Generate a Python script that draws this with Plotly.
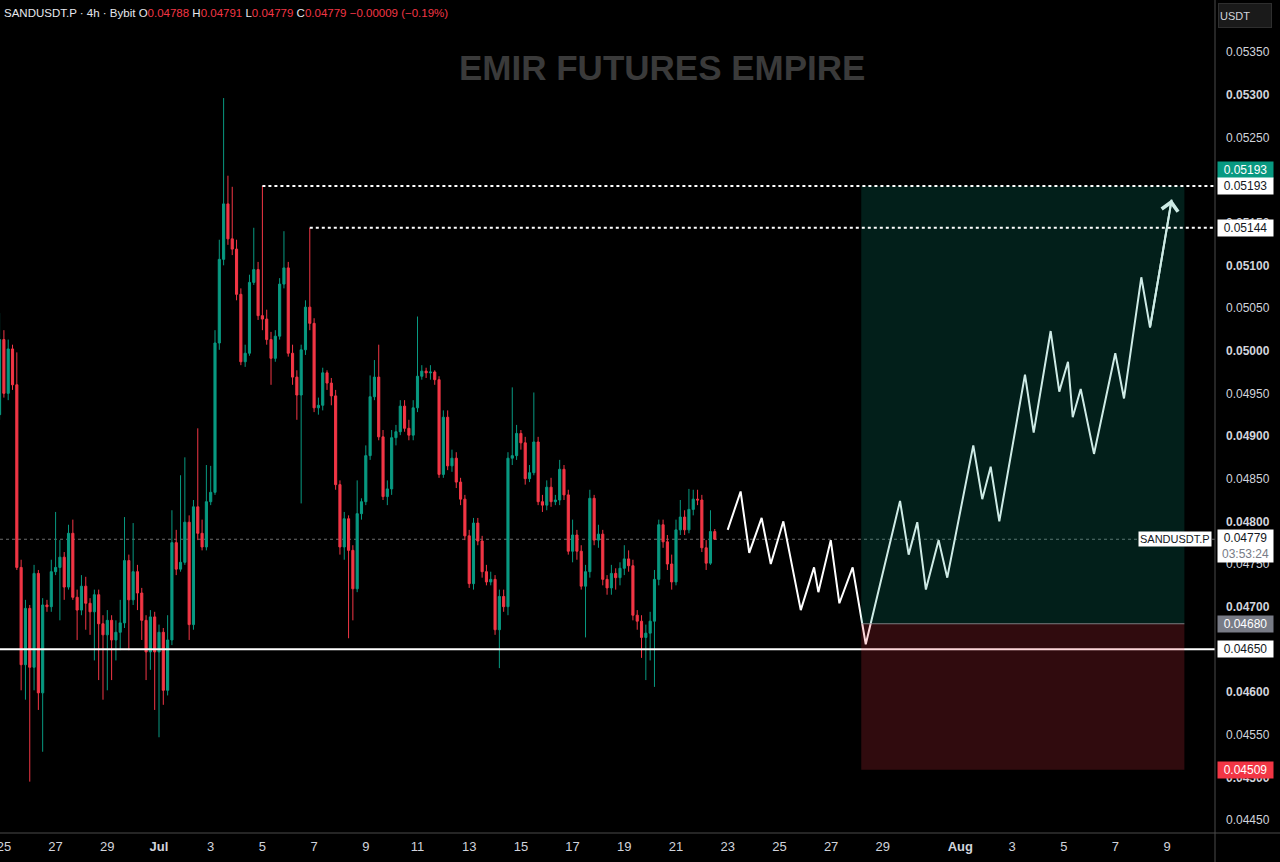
import pandas as pd
import plotly.graph_objects as go

# SANDUSDT.P 4h candles (Bybit), first bar at candle_start
candle_start = "2025-06-24 20:00"

opens = [
    0.04925, 0.05013, 0.04950, 0.05002, 0.04960, 0.04746, 0.04632, 0.04698, 0.04629, 0.04739,
    0.04599, 0.04702, 0.04700, 0.04741, 0.04746, 0.04758, 0.04723, 0.04786, 0.04711, 0.04696,
    0.04724, 0.04704, 0.04694, 0.04714, 0.04680, 0.04667, 0.04684, 0.04661, 0.04670, 0.04681,
    0.04754, 0.04708, 0.04741, 0.04716, 0.04684, 0.04647, 0.04688, 0.04647, 0.04670, 0.04602,
    0.04661, 0.04775, 0.04744, 0.04752, 0.04799, 0.04679, 0.04817, 0.04786, 0.04770, 0.04823,
    0.04834, 0.05009, 0.05107, 0.05172, 0.05131, 0.05119, 0.05066, 0.04987, 0.04997, 0.05080,
    0.05095, 0.05041, 0.05037, 0.05013, 0.04991, 0.05017, 0.05078, 0.05097, 0.04997, 0.04969,
    0.04948, 0.05001, 0.05051, 0.05032, 0.04933, 0.04936, 0.04974, 0.04962, 0.04947, 0.04843,
    0.04770, 0.04803, 0.04766, 0.04721, 0.04809, 0.04823, 0.04877, 0.04946, 0.04969, 0.04899,
    0.04829, 0.04838, 0.04898, 0.04905, 0.04935, 0.04909, 0.04901, 0.04933, 0.04970, 0.04976,
    0.04974, 0.04975, 0.04966, 0.04855, 0.04922, 0.04865, 0.04874, 0.04846, 0.04826, 0.04783,
    0.04727, 0.04798, 0.04777, 0.04741, 0.04729, 0.04732, 0.04673, 0.04712, 0.04700, 0.04874,
    0.04877, 0.04903, 0.04892, 0.04850, 0.04857, 0.04893, 0.04823, 0.04819, 0.04840, 0.04823,
    0.04825, 0.04861, 0.04831, 0.04765, 0.04784, 0.04765, 0.04724, 0.04741, 0.04827, 0.04778,
    0.04785, 0.04732, 0.04722, 0.04739, 0.04734, 0.04745, 0.04756, 0.04748, 0.04690, 0.04683,
    0.04664, 0.04669, 0.04683, 0.04732, 0.04796, 0.04776, 0.04750, 0.04729, 0.04790, 0.04805,
    0.04790, 0.04814, 0.04826, 0.04825, 0.04769, 0.04751, 0.04788,
]
highs = [
    0.05044, 0.05024, 0.05013, 0.05007, 0.04998, 0.04755, 0.04708, 0.04702, 0.04749, 0.04743,
    0.04710, 0.04708, 0.04755, 0.04811, 0.04778, 0.04764, 0.04796, 0.04802, 0.04720, 0.04737,
    0.04735, 0.04710, 0.04720, 0.04720, 0.04690, 0.04696, 0.04690, 0.04684, 0.04708, 0.04805,
    0.04761, 0.04798, 0.04749, 0.04722, 0.04690, 0.04696, 0.04694, 0.04679, 0.04675, 0.04690,
    0.04813, 0.04790, 0.04854, 0.04875, 0.04807, 0.04825, 0.04909, 0.04802, 0.04866, 0.04865,
    0.05024, 0.05130, 0.05296, 0.05205, 0.05192, 0.05130, 0.05073, 0.05007, 0.05089, 0.05144,
    0.05104, 0.05193, 0.05048, 0.05022, 0.05024, 0.05085, 0.05140, 0.05104, 0.05007, 0.04977,
    0.05007, 0.05059, 0.05144, 0.05038, 0.04945, 0.04980, 0.04977, 0.04968, 0.04954, 0.04848,
    0.04811, 0.04807, 0.04772, 0.04848, 0.04827, 0.04889, 0.04971, 0.04989, 0.05007, 0.04907,
    0.04848, 0.04907, 0.04913, 0.04942, 0.04942, 0.04919, 0.04942, 0.05040, 0.04983, 0.04980,
    0.04983, 0.04977, 0.04970, 0.04930, 0.04930, 0.04884, 0.04881, 0.04851, 0.04831, 0.04790,
    0.04804, 0.04804, 0.04783, 0.04749, 0.04741, 0.04737, 0.04720, 0.04720, 0.04881, 0.04957,
    0.04913, 0.04907, 0.04899, 0.04866, 0.04951, 0.04899, 0.04831, 0.04848, 0.04851, 0.04831,
    0.04872, 0.04866, 0.04837, 0.04802, 0.04790, 0.04772, 0.04749, 0.04837, 0.04831, 0.04796,
    0.04790, 0.04737, 0.04749, 0.04745, 0.04752, 0.04772, 0.04766, 0.04755, 0.04696, 0.04690,
    0.04679, 0.04694, 0.04743, 0.04802, 0.04802, 0.04784, 0.04761, 0.04802, 0.04825, 0.04813,
    0.04838, 0.04837, 0.04837, 0.04831, 0.04778, 0.04813, 0.04791,
]
lows = [
    0.04919, 0.04945, 0.04942, 0.04954, 0.04743, 0.04602, 0.04591, 0.04495, 0.04602, 0.04579,
    0.04530, 0.04694, 0.04694, 0.04737, 0.04684, 0.04708, 0.04720, 0.04708, 0.04661, 0.04690,
    0.04673, 0.04667, 0.04637, 0.04614, 0.04591, 0.04602, 0.04614, 0.04637, 0.04649, 0.04675,
    0.04649, 0.04702, 0.04696, 0.04661, 0.04614, 0.04626, 0.04579, 0.04547, 0.04585, 0.04596,
    0.04655, 0.04737, 0.04741, 0.04749, 0.04661, 0.04673, 0.04778, 0.04766, 0.04766, 0.04819,
    0.04831, 0.05001, 0.05100, 0.05124, 0.05112, 0.05059, 0.04983, 0.04981, 0.04994, 0.05077,
    0.05036, 0.05024, 0.05007, 0.04960, 0.04987, 0.05013, 0.05073, 0.04993, 0.04960, 0.04919,
    0.04821, 0.04995, 0.05024, 0.04928, 0.04925, 0.04930, 0.04954, 0.04936, 0.04837, 0.04761,
    0.04755, 0.04663, 0.04684, 0.04717, 0.04802, 0.04819, 0.04872, 0.04942, 0.04895, 0.04825,
    0.04819, 0.04831, 0.04889, 0.04901, 0.04905, 0.04895, 0.04895, 0.04928, 0.04966, 0.04968,
    0.04966, 0.04960, 0.04851, 0.04851, 0.04860, 0.04858, 0.04839, 0.04819, 0.04778, 0.04722,
    0.04720, 0.04772, 0.04734, 0.04725, 0.04725, 0.04667, 0.04628, 0.04694, 0.04690, 0.04866,
    0.04872, 0.04884, 0.04843, 0.04846, 0.04854, 0.04819, 0.04811, 0.04813, 0.04817, 0.04819,
    0.04819, 0.04825, 0.04761, 0.04752, 0.04755, 0.04720, 0.04664, 0.04734, 0.04772, 0.04769,
    0.04725, 0.04714, 0.04714, 0.04720, 0.04725, 0.04737, 0.04741, 0.04684, 0.04673, 0.04640,
    0.04614, 0.04637, 0.04606, 0.04725, 0.04769, 0.04743, 0.04720, 0.04725, 0.04784, 0.04784,
    0.04786, 0.04807, 0.04819, 0.04764, 0.04743, 0.04749, 0.04779,
]
closes = [
    0.05013, 0.04950, 0.05002, 0.04960, 0.04746, 0.04632, 0.04698, 0.04629, 0.04739, 0.04599,
    0.04702, 0.04700, 0.04741, 0.04746, 0.04758, 0.04723, 0.04786, 0.04711, 0.04696, 0.04724,
    0.04704, 0.04694, 0.04714, 0.04680, 0.04667, 0.04684, 0.04661, 0.04670, 0.04681, 0.04754,
    0.04708, 0.04741, 0.04716, 0.04684, 0.04647, 0.04688, 0.04647, 0.04670, 0.04602, 0.04661,
    0.04775, 0.04744, 0.04752, 0.04799, 0.04679, 0.04817, 0.04786, 0.04770, 0.04823, 0.04834,
    0.05009, 0.05107, 0.05172, 0.05131, 0.05119, 0.05066, 0.04987, 0.04997, 0.05080, 0.05095,
    0.05041, 0.05037, 0.05013, 0.04991, 0.05017, 0.05078, 0.05097, 0.04997, 0.04969, 0.04948,
    0.05001, 0.05051, 0.05032, 0.04933, 0.04936, 0.04974, 0.04962, 0.04947, 0.04843, 0.04770,
    0.04803, 0.04766, 0.04721, 0.04809, 0.04823, 0.04877, 0.04946, 0.04969, 0.04899, 0.04829,
    0.04838, 0.04898, 0.04905, 0.04935, 0.04909, 0.04901, 0.04933, 0.04970, 0.04976, 0.04974,
    0.04975, 0.04966, 0.04855, 0.04922, 0.04865, 0.04874, 0.04846, 0.04826, 0.04783, 0.04727,
    0.04798, 0.04777, 0.04741, 0.04729, 0.04732, 0.04673, 0.04712, 0.04700, 0.04874, 0.04877,
    0.04903, 0.04892, 0.04850, 0.04857, 0.04893, 0.04823, 0.04819, 0.04840, 0.04823, 0.04825,
    0.04861, 0.04831, 0.04765, 0.04784, 0.04765, 0.04724, 0.04741, 0.04827, 0.04778, 0.04785,
    0.04732, 0.04722, 0.04739, 0.04734, 0.04745, 0.04756, 0.04748, 0.04690, 0.04683, 0.04664,
    0.04669, 0.04683, 0.04732, 0.04796, 0.04776, 0.04750, 0.04729, 0.04790, 0.04805, 0.04790,
    0.04814, 0.04826, 0.04825, 0.04769, 0.04751, 0.04788, 0.04779,
]

# hand-drawn projection path
proj_time = [
    "2025-07-23 00:00", "2025-07-23 12:00", "2025-07-23 20:00", "2025-07-24 07:30",
    "2025-07-24 16:00", "2025-07-25 03:40", "2025-07-25 19:50", "2025-07-26 08:10",
    "2025-07-26 12:10", "2025-07-26 23:40", "2025-07-27 07:40", "2025-07-27 20:00",
    "2025-07-28 08:10", "2025-07-29 16:00", "2025-07-30 00:00", "2025-07-30 08:00",
    "2025-07-30 16:00", "2025-07-31 03:50", "2025-07-31 11:50", "2025-08-01 12:00",
    "2025-08-01 20:20", "2025-08-02 04:10", "2025-08-02 12:10", "2025-08-03 12:00",
    "2025-08-03 20:05", "2025-08-04 11:50", "2025-08-04 19:50", "2025-08-05 03:55",
    "2025-08-05 08:20", "2025-08-05 15:45", "2025-08-06 04:05", "2025-08-06 23:50",
    "2025-08-07 07:55", "2025-08-08 00:00", "2025-08-08 08:05", "2025-08-09 04:10",
]
proj_price = [
    0.04790, 0.04835, 0.04763, 0.04804, 0.04750, 0.04800, 0.04696, 0.04746, 0.04717,
    0.04778, 0.04704, 0.04746, 0.04656, 0.04824, 0.04761, 0.04799, 0.04720, 0.04778,
    0.04734, 0.04889, 0.04826, 0.04864, 0.04800, 0.04972, 0.04904, 0.05023, 0.04952,
    0.04987, 0.04922, 0.04955, 0.04879, 0.04997, 0.04944, 0.05086, 0.05027, 0.05177,
]

# long position tool
pos_start = "2025-07-28 04:00"
pos_end = "2025-08-09 16:00"
entry = 0.04680
target = 0.05193
stop = 0.04509
support = 0.04650
high_1 = 0.05193
high_1_time = "2025-07-05 00:00"
high_2 = 0.05144
high_2_time = "2025-07-06 20:00"
last_price = 0.04779

x_range = ["2025-06-24 20:23", "2025-08-10 20:25"]
y_range = [0.044348, 0.054109]

xtick_vals = ["2025-06-25", "2025-06-27", "2025-06-29", "2025-07-01", "2025-07-03",
              "2025-07-05", "2025-07-07", "2025-07-09", "2025-07-11", "2025-07-13",
              "2025-07-15", "2025-07-17", "2025-07-19", "2025-07-21", "2025-07-23",
              "2025-07-25", "2025-07-27", "2025-07-29", "2025-08-01", "2025-08-03",
              "2025-08-05", "2025-08-07", "2025-08-09"]
xtick_text = ["25", "27", "29", "<b>Jul</b>", "3", "5", "7", "9", "11", "13", "15", "17",
              "19", "21", "23", "25", "27", "29", "<b>Aug</b>", "3", "5", "7", "9"]

ytick_vals = [0.0445, 0.0450, 0.0455, 0.0460, 0.0465, 0.0470, 0.0475, 0.0480, 0.0485,
              0.0490, 0.0495, 0.0500, 0.0505, 0.0510, 0.0515, 0.0520, 0.0525, 0.0530, 0.0535]
ytick_text = []
for v in ytick_vals:
    s = "%.5f" % v
    if round(v * 10000) % 10 == 0:
        s = "<b>" + s + "</b>"
    ytick_text.append(s)

GREEN = "#089981"
RED = "#F23645"
LINE = "#4a4a4a"
TXT = "#d1d4dc"
FONT = "Liberation Sans, Arial, sans-serif"

times = pd.date_range(candle_start, periods=len(opens), freq="4h")

fig = go.Figure()
fig.add_trace(go.Candlestick(
    x=times, open=opens, high=highs, low=lows, close=closes,
    increasing=dict(line=dict(color=GREEN, width=1), fillcolor=GREEN),
    decreasing=dict(line=dict(color=RED, width=1), fillcolor=RED),
    whiskerwidth=0, hoverinfo="skip",
))
fig.add_trace(go.Scatter(
    x=proj_time, y=proj_price, mode="lines",
    line=dict(color="white", width=2), hoverinfo="skip",
))

shapes = []
# current price line
shapes.append(dict(type="line", xref="paper", x0=0, x1=1, yref="y", y0=last_price, y1=last_price,
                   line=dict(color="rgba(200,200,200,0.55)", width=1, dash="dot"), layer="below"))
# support
shapes.append(dict(type="line", xref="paper", x0=0, x1=1, yref="y", y0=support, y1=support,
                   line=dict(color="white", width=2)))
# position boxes
shapes.append(dict(type="rect", xref="x", x0=pos_start, x1=pos_end, yref="y", y0=entry, y1=target,
                   fillcolor="rgba(8,153,129,0.2)", line=dict(width=0), layer="above"))
shapes.append(dict(type="rect", xref="x", x0=pos_start, x1=pos_end, yref="y", y0=stop, y1=entry,
                   fillcolor="rgba(242,54,69,0.2)", line=dict(width=0), layer="above"))
shapes.append(dict(type="line", xref="x", x0=pos_start, x1=pos_end, yref="y", y0=entry, y1=entry,
                   line=dict(color="rgba(150,150,155,0.8)", width=1), layer="above"))
# dotted highs
shapes.append(dict(type="line", xref="x", x0=high_1_time, x1=x_range[1], yref="y", y0=high_1, y1=high_1,
                   line=dict(color="white", width=2, dash="dot"), layer="above"))
shapes.append(dict(type="line", xref="x", x0=high_2_time, x1=x_range[1], yref="y", y0=high_2, y1=high_2,
                   line=dict(color="white", width=2, dash="dot"), layer="above"))
# axis frame lines
shapes.append(dict(type="line", xref="paper", x0=1, x1=1, yref="paper", y0=-0.04, y1=1,
                   line=dict(color=LINE, width=1)))
shapes.append(dict(type="line", xref="paper", x0=0, x1=1.06, yref="paper", y0=0, y1=0,
                   line=dict(color=LINE, width=1)))

annotations = []
# arrow head at the end of the projection
annotations.append(dict(x=proj_time[-1], y=proj_price[-1], ax=proj_time[-2], ay=proj_price[-2],
                        xref="x", yref="y", axref="x", ayref="y", text="", showarrow=True,
                        arrowhead=4, arrowsize=1.6, arrowwidth=2, arrowcolor="#cdebe5"))
# header
red_span = "<span style='color:#F23645'>%s</span>"
annotations.append(dict(
    xref="paper", yref="paper", x=0, y=1, xanchor="left", yanchor="top", xshift=2, yshift=-5,
    showarrow=False, align="left",
    font=dict(family=FONT, size=11.5, color="#e6e8ee"),
    text=("SANDUSDT.P · 4h · Bybit O" + red_span % "0.04788" + " H" + red_span % "0.04791"
          + " L" + red_span % "0.04779" + " C" + red_span % "0.04779" + " "
          + red_span % "−0.00009 (−0.19%)"),
))
# watermark
annotations.append(dict(xref="paper", yref="paper", x=662 / 1215, y=1 - 68 / 833,
                        xanchor="center", yanchor="middle", showarrow=False,
                        text="<b>EMIR FUTURES EMPIRE</b>",
                        font=dict(family=FONT, size=35, color="#3a3a3a")))
# USDT button
annotations.append(dict(xref="paper", yref="paper", x=1, y=1, xanchor="left", yanchor="top",
                        xshift=3, yshift=-3, showarrow=False, text="USDT", width=50, height=21,
                        bgcolor="#1a1a1a", bordercolor="#2e2e2e", borderwidth=1, align="left",
                        font=dict(family=FONT, size=11, color=TXT)))


def price_tag(price, text, bg, fg, yshift=0):
    return dict(xref="paper", yref="y", x=1, y=price, xanchor="left", yanchor="middle",
                xshift=2, yshift=yshift, showarrow=False, text=text, width=53, borderpad=1,
                bgcolor=bg, font=dict(family=FONT, size=12, color=fg))


annotations.append(price_tag(target, "0.05193", GREEN, "white", yshift=16))
annotations.append(price_tag(high_1, "0.05193", "white", "#131722"))
annotations.append(price_tag(high_2, "0.05144", "white", "#131722"))
annotations.append(price_tag(entry, "0.04680", "#787b86", "white"))
annotations.append(price_tag(support, "0.04650", "white", "#131722"))
annotations.append(price_tag(stop, "0.04509", RED, "white"))
annotations.append(price_tag(last_price, "0.04779<br><span style='color:#787b86'>03:53:24</span>",
                             "white", "#131722", yshift=-7))
annotations.append(dict(xref="paper", yref="y", x=1, y=last_price, xanchor="right", yanchor="middle",
                        xshift=-3, showarrow=False, text="SANDUSDT.P", bgcolor="white", borderpad=1,
                        font=dict(family=FONT, size=11, color="#131722")))

fig.update_layout(
    width=1280, height=862,
    paper_bgcolor="#000000", plot_bgcolor="#000000",
    margin=dict(l=0, r=65, t=0, b=29, autoexpand=False),
    showlegend=False,
    shapes=shapes, annotations=annotations,
    xaxis=dict(type="date", range=x_range, tickvals=xtick_vals, ticktext=xtick_text,
               showgrid=False, zeroline=False, showline=False, ticks="", ticklabelstandoff=4,
               ticklabeloverflow="allow", automargin=False,
               tickfont=dict(family="Liberation Sans Narrow, Liberation Sans, Arial, sans-serif",
                             size=13, color=TXT),
               rangeslider=dict(visible=False)),
    yaxis=dict(side="right", range=y_range, tickvals=ytick_vals, ticktext=ytick_text,
               showgrid=False, zeroline=False, showline=False, ticks="", ticklabelstandoff=10,
               automargin=False,
               tickfont=dict(family=FONT, size=12, color=TXT)),
)

fig.write_html("out.html", config={"displayModeBar": False},
               post_script="document.body.style.margin='0';document.body.style.background='#000';")
